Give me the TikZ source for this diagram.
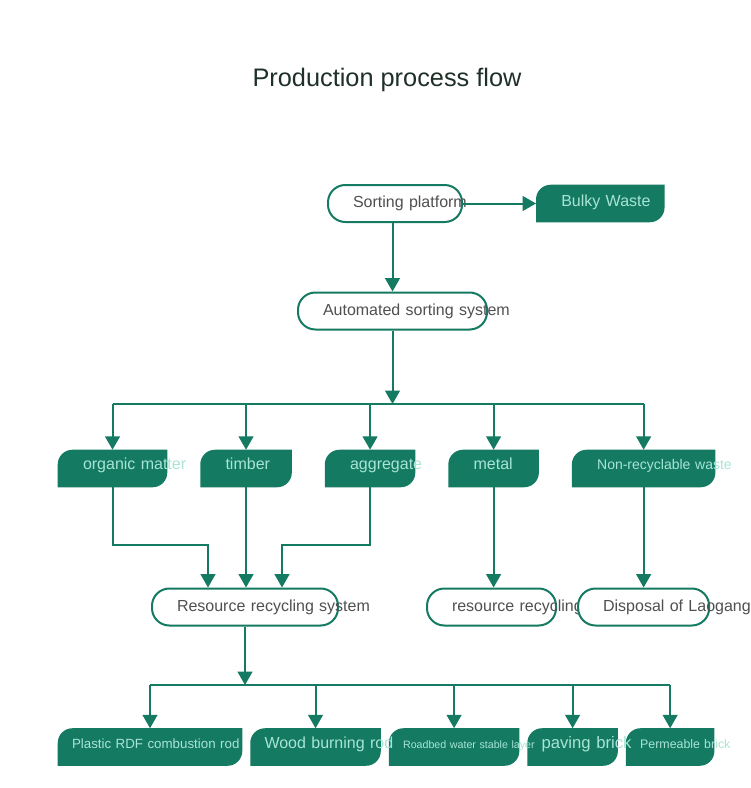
\documentclass[tikz,border=0pt]{standalone}
\usepackage{fontspec}
\setmainfont{Liberation Sans}
\usepackage{xcolor}
\definecolor{flowgreen}{RGB}{20,122,98}
\definecolor{leaftext}{RGB}{168,228,216}
\definecolor{pilltext}{RGB}{80,80,80}
\definecolor{titledark}{RGB}{30,48,40}
\usetikzlibrary{arrows.meta,positioning,backgrounds}
\tikzset{
  oneline/.style={execute at begin node=\hbox\bgroup,execute at end node=\egroup},
  pill/.style={rectangle,rounded corners=13pt,draw=flowgreen,line width=1.5pt,fill=white,
               text width=#1,align=left,oneline,minimum height=27.75pt,inner xsep=18.75pt,
               inner ysep=0pt,text=pilltext,font=\fontsize{12}{14}\selectfont},
  pill/.default=60pt,
  leaf/.style={rectangle,text width=#1,align=left,oneline,minimum height=27.75pt,
               inner xsep=18.75pt,inner ysep=0pt,text height=9pt,text depth=7pt,
               text=leaftext,font=\fontsize{12}{14}\selectfont},
  leaf/.default=30pt,
  arr/.style={-{Triangle[length=10pt,width=11pt]},line width=1.5pt,draw=flowgreen},
  busline/.style={line width=1.5pt,draw=flowgreen},
}
\begin{document}
\begin{tikzpicture}[x=0.75pt,y=-0.75pt,
    lowleaf/.style={leaf=#1,inner xsep=10.5pt},
  ]
  \useasboundingbox (0,0) rectangle (750,788);
  \node[font=\fontsize{19}{23}\selectfont,text=titledark] (title) at (387,80) {Production process flow};

  % sorting
  \node[pill=63pt] (sort) at (395,203.5) {Sorting platform};
  \node[leaf=58.5pt,right=54.75pt of sort,text depth=5pt] (bulky) {Bulky Waste};
  \node[pill=104.25pt] (auto) at (392.5,311) {Automated sorting system};

  % sorted fractions
  \node[leaf=44.25pt] (organic) at (112.5,468.5) {organic matter};
  \node[leaf=30.75pt,right=24.75pt of organic] (timber) {timber};
  \node[leaf=30pt,right=24.75pt of timber] (aggregate) {aggregate};
  \node[leaf=30pt,right=24.75pt of aggregate] (metal) {metal};
  \node[leaf=69.75pt,right=24.75pt of metal,font=\fontsize{10.5}{12}\selectfont] (nonrec) {Non-recyclable waste};

  % treatment
  \node[pill=59.25pt] (rr) at (491.5,607) {resource recycling};
  \node[pill=102pt] (rrs) at (245,607) {Resource recycling system};
  \node[pill=60.75pt] (disp) at (nonrec |- rrs) {Disposal of Laogang};

  % products
  \node[lowleaf=117pt,font=\fontsize{10}{12}\selectfont] (plastic) at (150,747) {Plastic RDF combustion rod};
  \node[lowleaf=76.5pt,right=6pt of plastic] (wood) {Wood burning rod};
  \node[lowleaf=76.5pt,right=6pt of wood,font=\fontsize{8}{10}\selectfont] (road) {Roadbed water stable layer};
  \node[lowleaf=46.5pt,right=6pt of road,font=\fontsize{12.5}{14}\selectfont] (paving) {paving brick};
  \node[lowleaf=45pt,right=6pt of paving,font=\fontsize{9.3}{11}\selectfont] (perm) {Permeable brick};

  \begin{scope}[on background layer]
    \fill[white] (0,0) rectangle (750,788);
    \foreach \n in {bulky,organic,timber,aggregate,metal,nonrec,plastic,wood,road,paving,perm}
      \fill[flowgreen] (\n.south west) -- ([yshift=-11pt]\n.north west)
        arc[start angle=180,end angle=90,radius=11pt] -- (\n.north east)
        -- ([yshift=11pt]\n.south east) arc[start angle=0,end angle=-90,radius=11pt] -- cycle;
  \end{scope}

  \coordinate (bus1) at (0,404);
  \coordinate (bus2) at (0,685);
  \coordinate (m1) at (208,545);
  \coordinate (m2) at (282,545);

  \draw[arr] (sort) -- (bulky);
  \draw[arr] (auto |- sort.south) -- (auto.north);
  \draw[arr] (auto.south) -- (auto.south |- bus1);
  \draw[busline] (organic.north |- bus1) -- (nonrec.north |- bus1);
  \foreach \n in {organic,timber,aggregate,metal,nonrec}
    \draw[arr] (\n.north |- bus1) -- (\n.north);

  \draw[arr] (organic.south) |- (m1) -- (m1 |- rrs.north);
  \draw[arr] (timber.south) -- (timber.south |- rrs.north);
  \draw[arr] (aggregate.south) |- (m2) -- (m2 |- rrs.north);
  \draw[arr] (metal.south) -- (metal.south |- rr.north);
  \draw[arr] (nonrec.south) -- (disp.north);

  \draw[arr] (rrs.south) -- (rrs.south |- bus2);
  \draw[busline] (plastic.north |- bus2) -- (perm.north |- bus2);
  \foreach \n in {plastic,wood,road,paving,perm}
    \draw[arr] (\n.north |- bus2) -- (\n.north);
\end{tikzpicture}
\end{document}
